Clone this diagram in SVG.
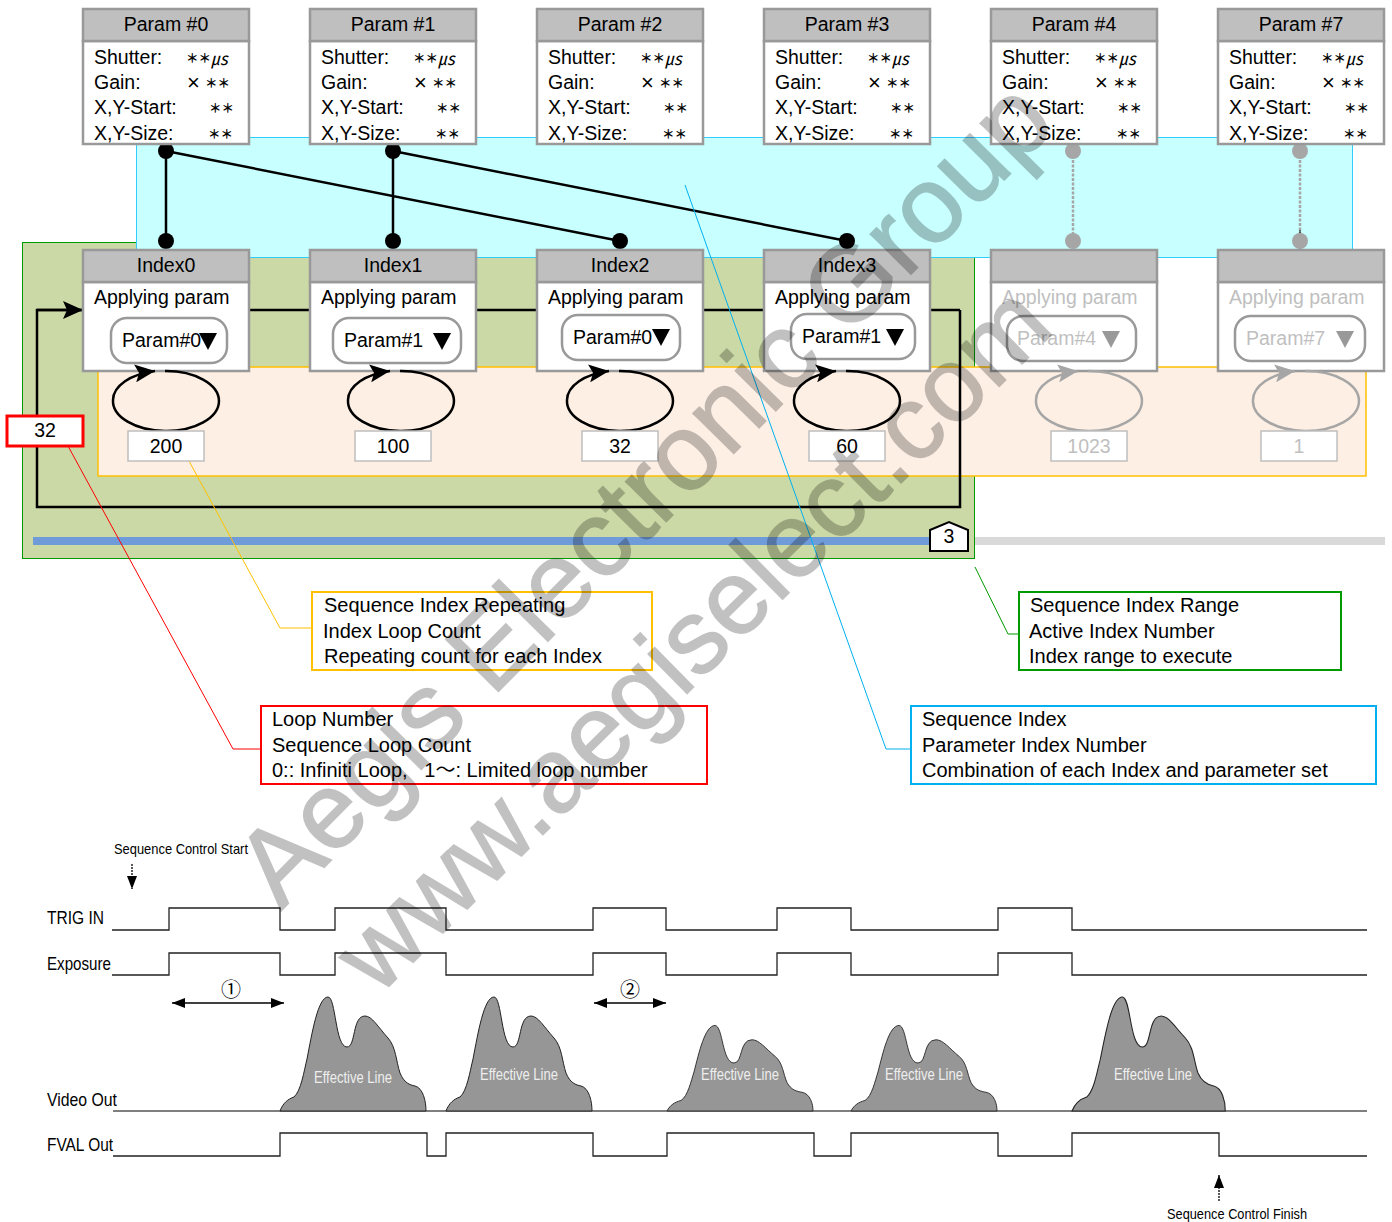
<svg xmlns="http://www.w3.org/2000/svg" width="1392" height="1222" viewBox="0 0 1392 1222">
<style>
text{font-family:"Liberation Sans","Noto Sans CJK JP",sans-serif;font-size:19.5px;fill:#000}
.j{font-family:"Noto Sans CJK JP","Liberation Sans",sans-serif;font-size:12.5px;font-weight:700}
.x{font-family:"Liberation Sans",sans-serif;font-size:22px}
.u{font-family:"Noto Sans CJK JP","Liberation Sans",sans-serif;font-size:17px;font-style:italic}
.c{font-family:"Noto Sans CJK JP","Liberation Sans",sans-serif;font-size:20px;text-anchor:middle}
.n{font-size:20px}
.m{text-anchor:middle}
.hd{fill:#bfbfbf;stroke:#999;stroke-width:2.5}
.bd{fill:#fff;stroke:#999;stroke-width:2.5}
.pill{fill:#fff;stroke:#999;stroke-width:2.5}
.cnt{fill:#fff;stroke:#bfbfbf;stroke-width:1.5}
.off{fill:#bfbfbf}
.tri{fill:#000}
.trg{fill:#999}
.wire{fill:none;stroke:#000;stroke-width:2.5}
.dot{fill:#000}
.gdot{fill:#a6a6a6}
.sig{fill:none;stroke:#222;stroke-width:1.3}
.t{font-size:19px}
.s{font-size:15px}
.e{font-size:16px;fill:#eee;text-anchor:middle}
.co{fill:#fff;stroke-width:2}
.lead{fill:none;stroke-width:1}
.wave{fill:#969696;stroke:#222;stroke-width:1}
.wm{font-family:"Liberation Sans",sans-serif;fill:#000;stroke:#000;stroke-width:1.5}
</style>
<defs>
<marker id="ah" markerUnits="userSpaceOnUse" markerWidth="22" markerHeight="18" refX="20" refY="9" orient="auto"><path d="M0,0L20,9L0,18L4,9Z" fill="#000"/></marker>
<marker id="ag" markerUnits="userSpaceOnUse" markerWidth="22" markerHeight="18" refX="20" refY="9" orient="auto"><path d="M0,0L20,9L0,18L4,9Z" fill="#a6a6a6"/></marker>
<marker id="sm" markerUnits="userSpaceOnUse" markerWidth="14" markerHeight="10" refX="13" refY="5" orient="auto-start-reverse"><path d="M0,0L13,5L0,10Z" fill="#000"/></marker>
<path id="hump" d="M0,0C3,-8 8,-12 14,-14C21,-20 24,-40 27,-52C32,-78 38,-114 48,-114C56,-114 55,-64 67,-64C76,-64 72,-95 85,-95C92,-95 98,-84 108,-73C116,-64 116,-50 120,-38C124,-28 130,-26 135,-25C143,-23 146,-10 146,0Z"/>
</defs>

<g id="regions">
<rect x="22.5" y="242.5" width="952" height="316" fill="#cbd9a6" stroke="#009900" stroke-width="1"/>
<rect x="136.5" y="137.5" width="1216" height="120" fill="#c8ffff" stroke="#33ccff" stroke-width="1"/>
<rect x="98" y="367" width="1268" height="109" fill="#fdefe4" stroke="#ffc000" stroke-width="1.5"/>
<rect x="33" y="537" width="897" height="8" fill="#6f9bd9"/>
<rect x="975" y="537" width="410" height="8" fill="#d9d9d9"/>
</g>

<g id="connectors">
<path class="wire" d="M960,310H37V507H960V310"/>
<path class="wire" marker-end="url(#ah)" d="M37,310H83"/>
<path class="wire" d="M166,151V241M393,151V241M166,151L620,241M393,151L847,241"/>
<path d="M1073,151V241M1300,151V241" fill="none" stroke="#a6a6a6" stroke-width="2.5" stroke-dasharray="3 1.5"/>
<path d="M1300,230V250M1306,362V372" fill="none" stroke="#000" stroke-width="1"/>
<g class="dot"><circle cx="166" cy="151" r="8"/><circle cx="393" cy="151" r="8"/><circle cx="166" cy="241" r="8"/><circle cx="393" cy="241" r="8"/><circle cx="620" cy="241" r="8"/><circle cx="847" cy="241" r="8"/></g>
<g class="gdot"><circle cx="1073" cy="151" r="8"/><circle cx="1300" cy="151" r="8"/><circle cx="1073" cy="241" r="8"/><circle cx="1300" cy="241" r="8"/></g>
<path class="lead" stroke="#ff0000" d="M68,446L233,749H261"/>
<path class="lead" stroke="#ffc000" d="M189,461L280,628H312"/>
<path class="lead" stroke="#009900" d="M975,567L1008,634H1019"/>
<path class="lead" stroke="#00b0f0" d="M685,185L886,749H911"/>
</g>

<g id="param0"><rect class="bd" x="83" y="41" width="166" height="103"/><rect class="hd" x="83" y="9" width="166" height="32"/><text class="m" x="166" y="31">Param #0</text><text x="94" y="64">Shutter:</text><text class="j" x="186" y="63">＊＊</text><text class="u" x="211" y="65">㎲</text><text x="94" y="89">Gain:</text><text class="x" x="187" y="90">×</text><text class="j" x="205" y="88">＊＊</text><text x="94" y="114">X,Y-Start:</text><text class="j" x="209" y="113">＊＊</text><text x="94" y="140">X,Y-Size:</text><text class="j" x="208" y="139">＊＊</text></g>
<g id="param1"><rect class="bd" x="310" y="41" width="166" height="103"/><rect class="hd" x="310" y="9" width="166" height="32"/><text class="m" x="393" y="31">Param #1</text><text x="321" y="64">Shutter:</text><text class="j" x="413" y="63">＊＊</text><text class="u" x="438" y="65">㎲</text><text x="321" y="89">Gain:</text><text class="x" x="414" y="90">×</text><text class="j" x="432" y="88">＊＊</text><text x="321" y="114">X,Y-Start:</text><text class="j" x="436" y="113">＊＊</text><text x="321" y="140">X,Y-Size:</text><text class="j" x="435" y="139">＊＊</text></g>
<g id="param2"><rect class="bd" x="537" y="41" width="166" height="103"/><rect class="hd" x="537" y="9" width="166" height="32"/><text class="m" x="620" y="31">Param #2</text><text x="548" y="64">Shutter:</text><text class="j" x="640" y="63">＊＊</text><text class="u" x="665" y="65">㎲</text><text x="548" y="89">Gain:</text><text class="x" x="641" y="90">×</text><text class="j" x="659" y="88">＊＊</text><text x="548" y="114">X,Y-Start:</text><text class="j" x="663" y="113">＊＊</text><text x="548" y="140">X,Y-Size:</text><text class="j" x="662" y="139">＊＊</text></g>
<g id="param3"><rect class="bd" x="764" y="41" width="166" height="103"/><rect class="hd" x="764" y="9" width="166" height="32"/><text class="m" x="847" y="31">Param #3</text><text x="775" y="64">Shutter:</text><text class="j" x="867" y="63">＊＊</text><text class="u" x="892" y="65">㎲</text><text x="775" y="89">Gain:</text><text class="x" x="868" y="90">×</text><text class="j" x="886" y="88">＊＊</text><text x="775" y="114">X,Y-Start:</text><text class="j" x="890" y="113">＊＊</text><text x="775" y="140">X,Y-Size:</text><text class="j" x="889" y="139">＊＊</text></g>
<g id="param4"><rect class="bd" x="991" y="41" width="166" height="103"/><rect class="hd" x="991" y="9" width="166" height="32"/><text class="m" x="1074" y="31">Param #4</text><text x="1002" y="64">Shutter:</text><text class="j" x="1094" y="63">＊＊</text><text class="u" x="1119" y="65">㎲</text><text x="1002" y="89">Gain:</text><text class="x" x="1095" y="90">×</text><text class="j" x="1113" y="88">＊＊</text><text x="1002" y="114">X,Y-Start:</text><text class="j" x="1117" y="113">＊＊</text><text x="1002" y="140">X,Y-Size:</text><text class="j" x="1116" y="139">＊＊</text></g>
<g id="param7"><rect class="bd" x="1218" y="41" width="166" height="103"/><rect class="hd" x="1218" y="9" width="166" height="32"/><text class="m" x="1301" y="31">Param #7</text><text x="1229" y="64">Shutter:</text><text class="j" x="1321" y="63">＊＊</text><text class="u" x="1346" y="65">㎲</text><text x="1229" y="89">Gain:</text><text class="x" x="1322" y="90">×</text><text class="j" x="1340" y="88">＊＊</text><text x="1229" y="114">X,Y-Start:</text><text class="j" x="1344" y="113">＊＊</text><text x="1229" y="140">X,Y-Size:</text><text class="j" x="1343" y="139">＊＊</text></g>

<g id="index0"><rect class="bd" x="83" y="282" width="166" height="89"/><rect class="hd" x="83" y="250" width="166" height="32"/><text class="m" x="166" y="272">Index0</text><text x="94" y="304">Applying param</text><rect class="pill" x="111" y="318" width="116" height="45" rx="16"/><text x="122" y="347">Param#0</text><path class="tri" d="M199,333H217L208,350Z"/></g>
<g id="index1"><rect class="bd" x="310" y="282" width="166" height="89"/><rect class="hd" x="310" y="250" width="166" height="32"/><text class="m" x="393" y="272">Index1</text><text x="321" y="304">Applying param</text><rect class="pill" x="333" y="318" width="128" height="45" rx="16"/><text x="344" y="347">Param#1</text><path class="tri" d="M433,333H451L442,350Z"/></g>
<g id="index2"><rect class="bd" x="537" y="282" width="166" height="89"/><rect class="hd" x="537" y="250" width="166" height="32"/><text class="m" x="620" y="272">Index2</text><text x="548" y="304">Applying param</text><rect class="pill" x="562" y="315" width="118" height="45" rx="16"/><text x="573" y="344">Param#0</text><path class="tri" d="M652,329H670L661,346Z"/></g>
<g id="index3"><rect class="bd" x="764" y="282" width="166" height="89"/><rect class="hd" x="764" y="250" width="166" height="32"/><text class="m" x="847" y="272">Index3</text><text x="775" y="304">Applying param</text><rect class="pill" x="791" y="314" width="124" height="45" rx="16"/><text x="802" y="343">Param#1</text><path class="tri" d="M886,329H904L895,346Z"/></g>
<g id="index4"><rect class="bd" x="991" y="282" width="166" height="89"/><rect class="hd" x="991" y="250" width="166" height="32"/><text class="off" x="1002" y="304">Applying param</text><rect class="pill" x="1007" y="316" width="129" height="45" rx="16"/><text class="off" x="1017" y="345">Param#4</text><path class="trg" d="M1102,331H1120L1111,348Z"/></g>
<g id="index7"><rect class="bd" x="1218" y="282" width="166" height="89"/><rect class="hd" x="1218" y="250" width="166" height="32"/><text class="off" x="1229" y="304">Applying param</text><rect class="pill" x="1235" y="316" width="130" height="45" rx="16"/><text class="off" x="1246" y="345">Param#7</text><path class="trg" d="M1336,331H1354L1345,348Z"/></g>

<g id="loop0"><path class="wire" marker-end="url(#ah)" d="M165,371A53,30 0 1 1 113,400A53,30 0 0 1 155,371"/><rect class="cnt" x="128" y="431" width="76" height="30"/><text class="m" x="166" y="453">200</text></g>
<g id="loop1"><path class="wire" marker-end="url(#ah)" d="M400,371A53,30 0 1 1 348,400A53,30 0 0 1 390,371"/><rect class="cnt" x="355" y="431" width="76" height="30"/><text class="m" x="393" y="453">100</text></g>
<g id="loop2"><path class="wire" marker-end="url(#ah)" d="M619,371A53,30 0 1 1 567,400A53,30 0 0 1 609,371"/><rect class="cnt" x="582" y="431" width="76" height="30"/><text class="m" x="620" y="453">32</text></g>
<g id="loop3"><path class="wire" marker-end="url(#ah)" d="M846,371A53,30 0 1 1 794,400A53,30 0 0 1 836,371"/><rect class="cnt" x="809" y="431" width="76" height="30"/><text class="m" x="847" y="453">60</text></g>
<g id="loop4"><path class="wire" style="stroke:#a6a6a6" marker-end="url(#ag)" d="M1088,371A53,30 0 1 1 1036,400A53,30 0 0 1 1078,371"/><rect class="cnt" x="1051" y="431" width="76" height="30"/><text class="m off" x="1089" y="453">1023</text></g>
<g id="loop7"><path class="wire" style="stroke:#a6a6a6" marker-end="url(#ag)" d="M1305,371A53,30 0 1 1 1253,400A53,30 0 0 1 1295,371"/><rect class="cnt" x="1261" y="431" width="76" height="30"/><text class="m off" x="1299" y="453">1</text></g>

<g id="loop-count"><rect x="7" y="416" width="76" height="30" fill="#fff" stroke="#ff0000" stroke-width="3"/><text class="m" x="45" y="437">32</text></g>
<g id="range-badge"><path d="M930,530L949,522L968,530V551H930Z" fill="#fff" stroke="#000" stroke-width="2"/><text class="m" x="949" y="543">3</text></g>

<g id="note-repeat"><rect class="co" x="312" y="592" width="340" height="78" stroke="#ffc000"/><text class="n" x="324" y="612">Sequence Index Repeating</text><text class="n" x="323" y="638">Index Loop Count</text><text class="n" x="324" y="663">Repeating count for each Index</text></g>
<g id="note-range"><rect class="co" x="1019" y="592" width="322" height="78" stroke="#009900"/><text class="n" x="1030" y="612">Sequence Index Range</text><text class="n" x="1029" y="638">Active Index Number</text><text class="n" x="1029" y="663">Index range to execute</text></g>
<g id="note-loop"><rect class="co" x="261" y="706" width="446" height="78" stroke="#ff0000"/><text class="n" x="272" y="726">Loop Number</text><text class="n" x="272" y="752">Sequence Loop Count</text><text class="n" x="272" y="777" xml:space="preserve">0:: Infiniti Loop,   1〜: Limited loop number</text></g>
<g id="note-index"><rect class="co" x="911" y="706" width="465" height="78" stroke="#00b0f0"/><text class="n" x="922" y="726">Sequence Index</text><text class="n" x="922" y="752">Parameter Index Number</text><text class="n" x="922" y="777">Combination of each Index and parameter set</text></g>

<g id="timing">
<text class="s" x="114" y="854" textLength="134" lengthAdjust="spacingAndGlyphs">Sequence Control Start</text>
<path d="M132,864V889" fill="none" stroke="#000" stroke-width="1.3" stroke-dasharray="2 1" marker-end="url(#sm)"/>
<text class="t" x="47" y="924" textLength="57" lengthAdjust="spacingAndGlyphs">TRIG IN</text>
<text class="t" x="47" y="970" textLength="64" lengthAdjust="spacingAndGlyphs">Exposure</text>
<text class="t" x="47" y="1106" textLength="70" lengthAdjust="spacingAndGlyphs">Video Out</text>
<text class="t" x="47" y="1151" textLength="66" lengthAdjust="spacingAndGlyphs">FVAL Out</text>
<path class="sig" d="M112,930H169V908H280V930H335V908H446V930H593V908H666V930H777V908H851V930H998V908H1072V930H1367"/>
<path class="sig" d="M112,975H169V953H280V975H335V953H446V975H593V953H666V975H777V953H851V975H998V953H1072V975H1367"/>
<path d="M113,1111H1367" fill="none" stroke="#555" stroke-width="1.5"/>
<use href="#hump" class="wave" transform="translate(280,1111)"/>
<use href="#hump" class="wave" transform="translate(446,1111)"/>
<use href="#hump" class="wave" transform="translate(667,1111) scale(1,.75)"/>
<use href="#hump" class="wave" transform="translate(851,1111) scale(1,.75)"/>
<use href="#hump" class="wave" transform="translate(1072,1111) scale(1.05,1)"/>
<text class="e" x="353" y="1083" textLength="78" lengthAdjust="spacingAndGlyphs">Effective Line</text>
<text class="e" x="519" y="1080" textLength="78" lengthAdjust="spacingAndGlyphs">Effective Line</text>
<text class="e" x="740" y="1080" textLength="78" lengthAdjust="spacingAndGlyphs">Effective Line</text>
<text class="e" x="924" y="1080" textLength="78" lengthAdjust="spacingAndGlyphs">Effective Line</text>
<text class="e" x="1153" y="1080" textLength="78" lengthAdjust="spacingAndGlyphs">Effective Line</text>
<path class="sig" d="M113,1156H280V1133H427V1156H446V1133H593V1156H667V1133H814V1156H851V1133H998V1156H1072V1133H1219V1156H1367"/>
<path d="M172,1003H284" fill="none" stroke="#000" stroke-width="1.3" marker-start="url(#sm)" marker-end="url(#sm)"/>
<text class="c" x="231" y="997">①</text>
<path d="M594,1003H666" fill="none" stroke="#000" stroke-width="1.3" marker-start="url(#sm)" marker-end="url(#sm)"/>
<text class="c" x="630" y="997">②</text>
<path d="M1219,1201V1175" fill="none" stroke="#000" stroke-width="1.3" stroke-dasharray="2 1" marker-end="url(#sm)"/>
<text class="s" x="1167" y="1219" textLength="140" lengthAdjust="spacingAndGlyphs">Sequence Control Finish</text>
</g>

<g id="watermark" opacity=".24">
<text class="wm" transform="translate(281,911) rotate(-45.3)" style="font-size:108px">Aegis Electronic Group</text>
<text class="wm" transform="translate(378,997) rotate(-44.5)" style="font-size:105px">www.aegiselect.com</text>
</g>
</svg>
